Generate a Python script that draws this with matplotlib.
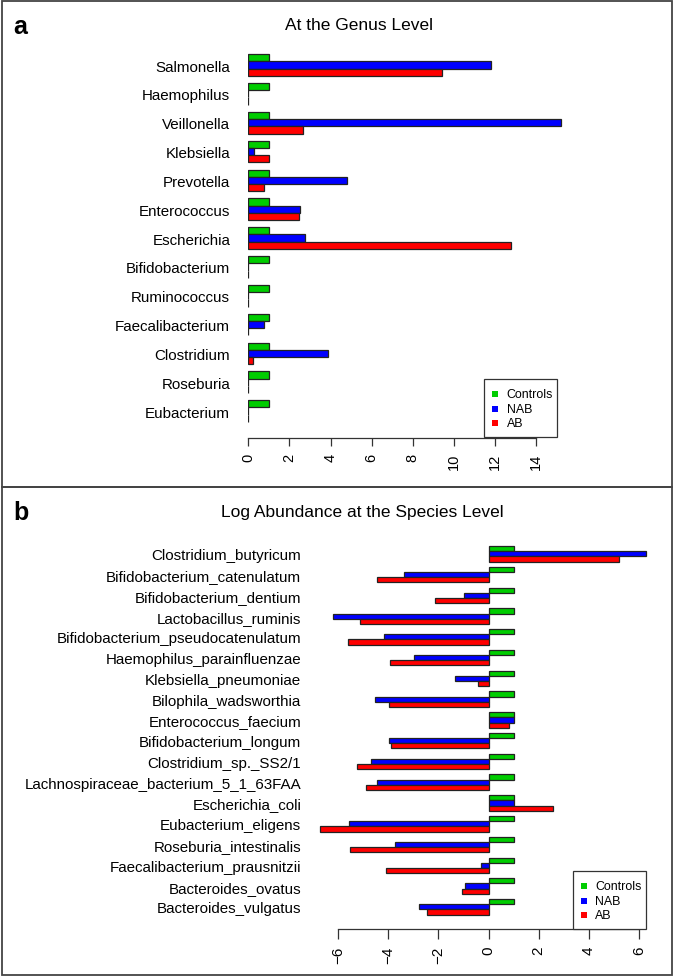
import matplotlib
matplotlib.use("Agg")
import matplotlib.pyplot as plt
from matplotlib.patches import Rectangle
import numpy as np

plt.rcParams['font.family'] = ['Liberation Sans', 'DejaVu Sans']

# ---------------- data ----------------
genera = ["Salmonella", "Haemophilus", "Veillonella", "Klebsiella", "Prevotella",
          "Enterococcus", "Escherichia", "Bifidobacterium", "Ruminococcus",
          "Faecalibacterium", "Clostridium", "Roseburia", "Eubacterium"]
genus_controls = [1, 1, 1, 1, 1, 1, 1, 1, 1, 1, 1, 1, 1]
genus_nab = [11.83, 0, 15.2, 0.29, 4.82, 2.52, 2.76, 0, 0, 0.76, 3.86, 0, 0]
genus_ab = [9.41, 0, 2.65, 1.0, 0.76, 2.45, 12.77, 0, 0, 0, 0.24, 0, 0]
genus_ticks = [0, 2, 4, 6, 8, 10, 12, 14]

species = ["Clostridium_butyricum", "Bifidobacterium_catenulatum", "Bifidobacterium_dentium",
           "Lactobacillus_ruminis", "Bifidobacterium_pseudocatenulatum",
           "Haemophilus_parainfluenzae", "Klebsiella_pneumoniae", "Bilophila_wadsworthia",
           "Enterococcus_faecium", "Bifidobacterium_longum", "Clostridium_sp._SS2/1",
           "Lachnospiraceae_bacterium_5_1_63FAA", "Escherichia_coli", "Eubacterium_eligens",
           "Roseburia_intestinalis", "Faecalibacterium_prausnitzii", "Bacteroides_ovatus",
           "Bacteroides_vulgatus"]
species_controls = [1] * 18
species_nab = [6.27, -3.38, -1.0, -6.22, -4.16, -2.99, -1.36, -4.53, 1.01, -3.98,
               -4.69, -4.44, 1.01, -5.58, -3.73, -0.31, -0.96, -2.77]
species_ab = [5.19, -4.44, -2.14, -5.13, -5.61, -3.94, -0.41, -3.98, 0.82, -3.90,
              -5.25, -4.89, 2.55, -6.72, -5.52, -4.10, -1.07, -2.45]
species_ticks = [-6, -4, -2, 0, 2, 4, 6]

series_names = ["Controls", "NAB", "AB"]
series_colors = ["#00CD00", "#0000FF", "#FF0000"]

# ---------------- figure ----------------
W, H = 675, 978
fig = plt.figure(figsize=(W / 100, H / 100), dpi=100)


def fx(px):
    return px / W


def fy(py):
    return 1 - py / H


def panel_box(y0, y1):
    fig.patches.append(Rectangle((fx(2), fy(y1)), fx(670), (y1 - y0) / H,
                                 transform=fig.transFigure, fill=False,
                                 edgecolor="#444444", linewidth=1.3))


panel_box(2, 488)
panel_box(488, 976)


def draw_panel(rect, xlim, ylim, cats, vals, ticks, label_pad, name_size,
               tick_size, tick_len, tick_pad):
    ax = fig.add_axes(rect)
    ax.set_xlim(*xlim)
    ax.set_ylim(*ylim)
    centers = np.arange(len(cats)) * 4 + 2.5
    for k, (v, c) in enumerate(zip(vals, series_colors)):
        ax.barh(centers + (k - 1), v, height=1.0, left=0, color=c,
                edgecolor="#222222", linewidth=0.9)
    for s in ["top", "right", "left"]:
        ax.spines[s].set_visible(False)
    ax.spines["bottom"].set_bounds(ticks[0], ticks[-1])
    ax.spines["bottom"].set_color("#333333")
    ax.spines["bottom"].set_linewidth(0.9)
    ax.set_xticks(ticks)
    ax.set_xticklabels([str(t).replace("-", "\u2212") for t in ticks], rotation=90,
                       fontsize=tick_size)
    ax.tick_params(axis="x", direction="out", length=tick_len, width=0.9,
                   color="#333333", pad=tick_pad)
    ax.set_yticks(centers)
    ax.set_yticklabels(cats, fontsize=name_size)
    ax.tick_params(axis="y", length=0, pad=label_pad)
    ax.patch.set_alpha(0)
    return ax


# top panel: 0 at px 248.3, 20.55 px/unit; group centre Salmonella px 66, 7.21 px/unit
draw_panel([fx(248.3), fy(439), (568.9 - 248.3) / W, (439 - 40) / H],
           (0, 15.6), (54.23, -1.106), genera,
           [genus_controls, genus_nab, genus_ab], genus_ticks, 13.0,
           10.9, 10.5, 5.8, 5.0)

# bottom panel: 0 at px 488.65, 25.06 px/unit
draw_panel([fx(313.2), fy(930), (651.5 - 313.2) / W, (930 - 540) / H],
           (-7, 6.5), (74.77, -0.35), species,
           [species_controls, species_nab, species_ab], species_ticks, 8.6,
           10.9, 11.0, 7.2, 4.5)


def legend(x0, y0, x1, y1, ys, xsq, xtxt):
    fig.patches.append(Rectangle((fx(x0), fy(y1)), (x1 - x0) / W, (y1 - y0) / H,
                                 transform=fig.transFigure, facecolor="white",
                                 edgecolor="#333333", linewidth=0.9, zorder=5))
    for name, col, yy in zip(series_names, series_colors, ys):
        fig.patches.append(Rectangle((fx(xsq - 3), fy(yy + 3)), 6 / W, 6 / H,
                                     transform=fig.transFigure, facecolor=col,
                                     edgecolor="none", zorder=6))
        fig.text(fx(xtxt), fy(yy), name, fontsize=8.9, va="center", ha="left",
                 zorder=7)


legend(484.3, 380, 556.7, 438, [395, 409.7, 423.7], 495, 506.5)
legend(573.3, 872.3, 645.7, 930, [886.7, 901.7, 916], 584.3, 595)

fig.text(fx(359), fy(26), "At the Genus Level", fontsize=12.5, ha="center", va="center")
fig.text(fx(362), fy(512), "Log Abundance at the Species Level", fontsize=12.5,
         ha="center", va="center")
fig.text(fx(13), fy(27), "a", fontsize=18, fontweight="bold", ha="left", va="center")
fig.text(fx(13), fy(513), "b", fontsize=18, fontweight="bold", ha="left", va="center")

fig.savefig("out.png", dpi=100)
